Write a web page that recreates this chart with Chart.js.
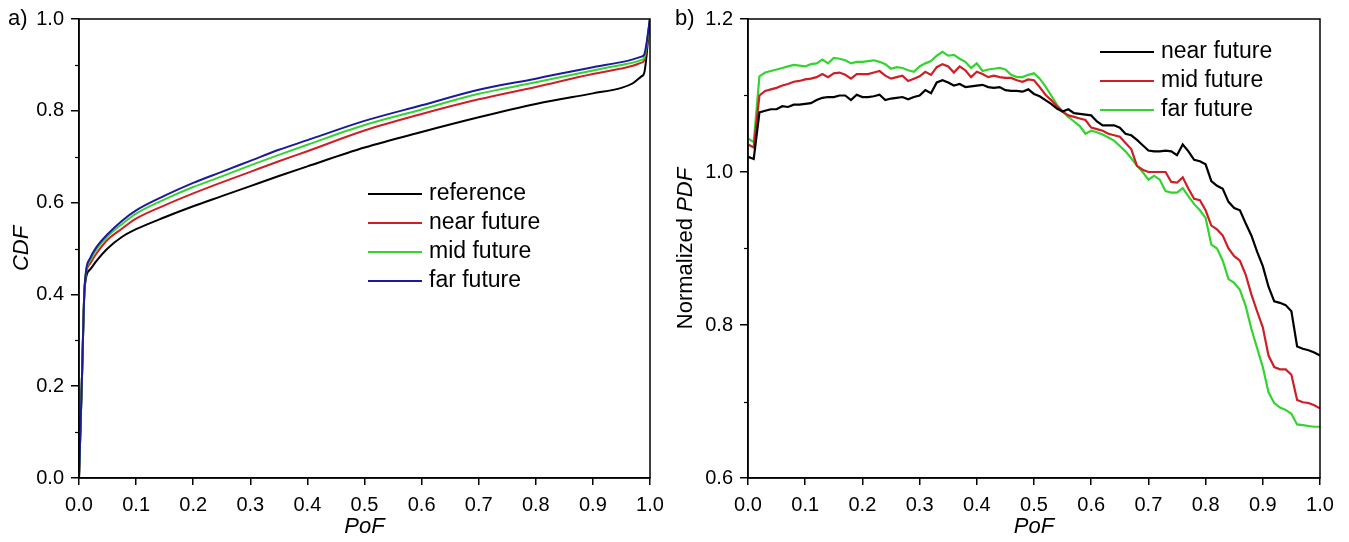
<!DOCTYPE html>
<html>
<head>
<meta charset="utf-8">
<title>CDF and normalized PDF of PoF</title>
<script src="https://cdn.jsdelivr.net/npm/chart.js@4.4.1/dist/chart.umd.min.js"></script>
<style>
	html, body { margin: 0; padding: 0; background: #fff; }
	#wrap { position: relative; width: 1349px; height: 542px; }
	.panel { position: absolute; top: 0; }
</style>
</head>
<body>
<div id="wrap">
	<div class="panel" style="left:0px"><canvas id="cdf-chart" width="675" height="542"></canvas></div>
	<div class="panel" style="left:675px"><canvas id="pdf-chart" width="674" height="542"></canvas></div>
</div>
<script>
'use strict';

// Panel a) CDF of PoF.
const cdfPoF = [0, 0.005, 0.01, 0.02, 0.03, 0.05, 0.075, 0.1, 0.15, 0.2, 0.25, 0.3, 0.35, 0.4, 0.5, 0.6, 0.7, 0.8, 0.9, 0.95, 0.97, 0.985, 0.99, 1.0];
const cdfReference = [0, 0.21, 0.415, 0.455, 0.472, 0.500, 0.525, 0.542, 0.568, 0.592, 0.614, 0.636, 0.658, 0.679, 0.720, 0.754, 0.786, 0.815, 0.838, 0.850, 0.860, 0.875, 0.883, 1.0];
const cdfNear = [0, 0.21, 0.42, 0.468, 0.488, 0.519, 0.543, 0.565, 0.594, 0.620, 0.644, 0.667, 0.690, 0.712, 0.757, 0.793, 0.825, 0.852, 0.880, 0.892, 0.898, 0.905, 0.910, 1.0];
const cdfMid = [0, 0.21, 0.42, 0.475, 0.497, 0.526, 0.553, 0.576, 0.607, 0.634, 0.657, 0.681, 0.704, 0.726, 0.769, 0.803, 0.837, 0.862, 0.888, 0.900, 0.905, 0.911, 0.916, 1.0];
const cdfFar = [0, 0.21, 0.42, 0.480, 0.502, 0.531, 0.560, 0.583, 0.615, 0.643, 0.667, 0.691, 0.715, 0.736, 0.778, 0.812, 0.846, 0.870, 0.895, 0.906, 0.912, 0.918, 0.923, 1.0];

// Panel b) normalized PDF of PoF.
const pdfPoF = [
	0.00, 0.01, 0.02, 0.03, 0.04, 0.05, 0.06, 0.07, 0.08, 0.09,
	0.10, 0.11, 0.12, 0.13, 0.14, 0.15, 0.16, 0.17, 0.18, 0.19,
	0.20, 0.21, 0.22, 0.23, 0.24, 0.25, 0.26, 0.27, 0.28, 0.29,
	0.30, 0.31, 0.32, 0.33, 0.34, 0.35, 0.36, 0.37, 0.38, 0.39,
	0.40, 0.41, 0.42, 0.43, 0.44, 0.45, 0.46, 0.47, 0.48, 0.49,
	0.50, 0.51, 0.52, 0.53, 0.54, 0.55, 0.56, 0.57, 0.58, 0.59,
	0.60, 0.61, 0.62, 0.63, 0.64, 0.65, 0.66, 0.67, 0.68, 0.69,
	0.70, 0.71, 0.72, 0.73, 0.74, 0.75, 0.76, 0.77, 0.78, 0.79,
	0.80, 0.81, 0.82, 0.83, 0.84, 0.85, 0.86, 0.87, 0.88, 0.89,
	0.90, 0.91, 0.92, 0.93, 0.94, 0.95, 0.96, 0.97, 0.98, 0.99,
	1.00
];
const pdfNear = [
	1.020, 1.017, 1.078, 1.080, 1.082, 1.082, 1.086, 1.085, 1.088, 1.088,
	1.089, 1.090, 1.094, 1.097, 1.098, 1.098, 1.100, 1.100, 1.094, 1.101,
	1.098, 1.098, 1.099, 1.101, 1.094, 1.096, 1.097, 1.098, 1.095, 1.098,
	1.100, 1.107, 1.103, 1.117, 1.120, 1.117, 1.113, 1.115, 1.111, 1.112,
	1.113, 1.114, 1.111, 1.110, 1.111, 1.107, 1.106, 1.106, 1.105, 1.108,
	1.102, 1.099, 1.094, 1.089, 1.083, 1.079, 1.082, 1.077, 1.076, 1.075,
	1.074, 1.066, 1.061, 1.061, 1.061, 1.058, 1.050, 1.048, 1.042, 1.035,
	1.028, 1.027, 1.027, 1.028, 1.027, 1.022, 1.036, 1.027, 1.016, 1.014,
	1.010, 0.988, 0.982, 0.978, 0.961, 0.953, 0.950, 0.933, 0.917, 0.896,
	0.877, 0.850, 0.831, 0.829, 0.826, 0.818, 0.772, 0.769, 0.767, 0.764,
	0.760
];
const pdfMid = [
	1.036, 1.032, 1.100, 1.106, 1.108, 1.110, 1.113, 1.115, 1.118, 1.119,
	1.121, 1.122, 1.124, 1.128, 1.124, 1.129, 1.130, 1.127, 1.122, 1.128,
	1.128, 1.128, 1.130, 1.132, 1.126, 1.122, 1.124, 1.126, 1.119, 1.122,
	1.125, 1.131, 1.127, 1.137, 1.141, 1.138, 1.130, 1.138, 1.133, 1.124,
	1.131, 1.128, 1.124, 1.126, 1.124, 1.123, 1.123, 1.120, 1.118, 1.121,
	1.120, 1.111, 1.101, 1.094, 1.086, 1.079, 1.074, 1.072, 1.070, 1.068,
	1.058, 1.056, 1.054, 1.050, 1.048, 1.046, 1.038, 1.030, 1.008, 1.003,
	1.000, 1.000, 1.000, 1.000, 0.987, 0.986, 0.993, 0.978, 0.965, 0.963,
	0.950, 0.930, 0.925, 0.917, 0.900, 0.890, 0.884, 0.866, 0.840, 0.818,
	0.797, 0.760, 0.745, 0.742, 0.742, 0.735, 0.702, 0.699, 0.698, 0.695,
	0.691
];
const pdfFar = [
	1.044, 1.039, 1.125, 1.130, 1.132, 1.134, 1.136, 1.138, 1.140, 1.139,
	1.138, 1.141, 1.142, 1.147, 1.142, 1.149, 1.148, 1.146, 1.142, 1.144,
	1.144, 1.145, 1.146, 1.144, 1.141, 1.135, 1.137, 1.136, 1.133, 1.131,
	1.138, 1.142, 1.145, 1.152, 1.157, 1.152, 1.153, 1.148, 1.144, 1.136,
	1.142, 1.132, 1.134, 1.135, 1.136, 1.134, 1.127, 1.124, 1.124, 1.127,
	1.129, 1.122, 1.112, 1.100, 1.088, 1.079, 1.072, 1.066, 1.060, 1.050,
	1.054, 1.052, 1.049, 1.045, 1.041, 1.034, 1.027, 1.018, 1.008, 1.000,
	0.990, 0.995, 0.990, 0.975, 0.973, 0.973, 0.979, 0.968, 0.958, 0.950,
	0.940, 0.905, 0.900, 0.884, 0.860, 0.855, 0.846, 0.825, 0.795, 0.770,
	0.745, 0.712, 0.698, 0.692, 0.689, 0.684, 0.670, 0.669, 0.668, 0.667,
	0.667
];

// Axis tick values.
const cdfMinorTicks = [0.1, 0.3, 0.5, 0.7, 0.9];
const pdfMinorTicks = [0.7, 0.9, 1.1];

const fontFamily = '"Liberation Sans", Arial, Helvetica, sans-serif';
const colors = {
	black: '#000000',
	red: '#cc1f26',
	green: '#33d42f',
	blue: '#1a1a9c'
};

function toPoints(xs, ys) {
	return xs.map(function(x, i) {
		return { x: x, y: ys[i] };
	});
}

/**
 * Frame, minor ticks, axis titles, legend and panel letter.
 */
const panelDecor = {
	id: 'panelDecor',
	afterDraw: function(chart, args, opts) {
		const ctx = chart.ctx;
		const area = chart.chartArea;
		const yScale = chart.scales.y;

		ctx.save();
		ctx.strokeStyle = '#000';
		ctx.lineWidth = 1.5;
		ctx.strokeRect(area.left, area.top, area.right - area.left, area.bottom - area.top);

		// Minor ticks on the y axis.
		ctx.lineWidth = 1.2;
		opts.minorTicks.forEach(function(v) {
			const py = Math.round(yScale.getPixelForValue(v)) + 0.5;
			ctx.beginPath();
			ctx.moveTo(area.left - 4, py);
			ctx.lineTo(area.left, py);
			ctx.stroke();
		});

		ctx.fillStyle = '#000';
		ctx.textBaseline = 'middle';

		// x axis title.
		ctx.font = 'italic 22px ' + fontFamily;
		ctx.textAlign = 'center';
		ctx.fillText('PoF', (area.left + area.right) / 2, opts.xTitleY);

		// y axis title, possibly with a plain prefix.
		ctx.save();
		ctx.translate(opts.yTitleX, (area.top + area.bottom) / 2);
		ctx.rotate(-Math.PI / 2);
		ctx.font = '22px ' + fontFamily;
		const prefixW = ctx.measureText(opts.yTitlePrefix).width;
		ctx.font = 'italic 22px ' + fontFamily;
		const mainW = ctx.measureText(opts.yTitle).width;
		let tx = -(prefixW + mainW) / 2;
		ctx.textAlign = 'left';
		ctx.font = '22px ' + fontFamily;
		ctx.fillText(opts.yTitlePrefix, tx, 0);
		ctx.font = 'italic 22px ' + fontFamily;
		ctx.fillText(opts.yTitle, tx + prefixW, 0);
		ctx.restore();

		// Panel letter.
		ctx.font = '22px ' + fontFamily;
		ctx.textAlign = 'left';
		ctx.fillText(opts.letter, opts.letterX, area.top);

		// Legend.
		ctx.font = '23px ' + fontFamily;
		chart.data.datasets.forEach(function(ds, i) {
			const ly = opts.legendY + i * opts.legendGap;
			ctx.strokeStyle = ds.borderColor;
			ctx.lineWidth = 2;
			ctx.beginPath();
			ctx.moveTo(opts.legendX, ly);
			ctx.lineTo(opts.legendX + 54, ly);
			ctx.stroke();
			ctx.fillStyle = '#000';
			ctx.fillText(ds.label, opts.legendX + 61, ly);
		});
		ctx.restore();
	}
};

function makeScales(yMin, yMax, yWidth) {
	return {
		x: {
			type: 'linear',
			min: 0,
			max: 1,
			border: { color: '#000', width: 1.5 },
			grid: { drawOnChartArea: false, color: '#000', lineWidth: 1.5, tickLength: 7 },
			ticks: {
				stepSize: 0.1,
				autoSkip: false,
				maxRotation: 0,
				color: '#000',
				padding: 8,
				font: { family: fontFamily, size: 20 },
				callback: function(v) { return Number(v).toFixed(1); }
			},
			afterFit: function(scale) { scale.height = 64; }
		},
		y: {
			type: 'linear',
			min: yMin,
			max: yMax,
			border: { color: '#000', width: 1.5 },
			grid: { drawOnChartArea: false, color: '#000', lineWidth: 1.5, tickLength: 8 },
			ticks: {
				stepSize: 0.2,
				color: '#000',
				padding: 7,
				font: { family: fontFamily, size: 20 },
				callback: function(v) { return Number(v).toFixed(1); }
			},
			afterFit: function(scale) { scale.width = yWidth; }
		}
	};
}

function lineSet(label, color, xs, ys, width, order, smooth) {
	return {
		label: label,
		data: toPoints(xs, ys),
		borderColor: color,
		backgroundColor: color,
		borderWidth: width,
		pointRadius: 0,
		fill: false,
		order: order,
		tension: smooth ? 0.4 : 0,
		cubicInterpolationMode: smooth ? 'monotone' : 'default'
	};
}

// Panel a).
new Chart(document.getElementById('cdf-chart').getContext('2d'), {
	type: 'line',
	data: {
		datasets: [
			lineSet('reference', colors.black, cdfPoF, cdfReference, 2, 3, true),
			lineSet('near future', colors.red, cdfPoF, cdfNear, 2, 2, true),
			lineSet('mid future', colors.green, cdfPoF, cdfMid, 2, 1, true),
			lineSet('far future', colors.blue, cdfPoF, cdfFar, 2, 0, true)
		]
	},
	options: {
		responsive: false,
		animation: false,
		devicePixelRatio: 1,
		layout: { padding: { top: 17, right: 25, left: 0, bottom: 0 } },
		scales: makeScales(0, 1, 79),
		plugins: {
			legend: { display: false },
			tooltip: { enabled: false },
			panelDecor: {
				minorTicks: cdfMinorTicks,
				xTitleY: 527,
				yTitleX: 22,
				yTitlePrefix: '',
				yTitle: 'CDF',
				letter: 'a)',
				letterX: 8,
				legendX: 368,
				legendY: 194,
				legendGap: 29
			}
		}
	},
	plugins: [panelDecor]
});

// Panel b).
new Chart(document.getElementById('pdf-chart').getContext('2d'), {
	type: 'line',
	data: {
		datasets: [
			lineSet('near future', colors.black, pdfPoF, pdfNear, 2.2, 0, false),
			lineSet('mid future', colors.red, pdfPoF, pdfMid, 2.2, 1, false),
			lineSet('far future', colors.green, pdfPoF, pdfFar, 2.2, 2, false)
		]
	},
	options: {
		responsive: false,
		animation: false,
		devicePixelRatio: 1,
		layout: { padding: { top: 17, right: 29, left: 0, bottom: 0 } },
		scales: makeScales(0.6, 1.2, 73),
		plugins: {
			legend: { display: false },
			tooltip: { enabled: false },
			panelDecor: {
				minorTicks: pdfMinorTicks,
				xTitleY: 527,
				yTitleX: 11,
				yTitlePrefix: 'Normalized ',
				yTitle: 'PDF',
				letter: 'b)',
				letterX: 0,
				legendX: 425,
				legendY: 52,
				legendGap: 29
			}
		}
	},
	plugins: [panelDecor]
});
</script>
</body>
</html>
